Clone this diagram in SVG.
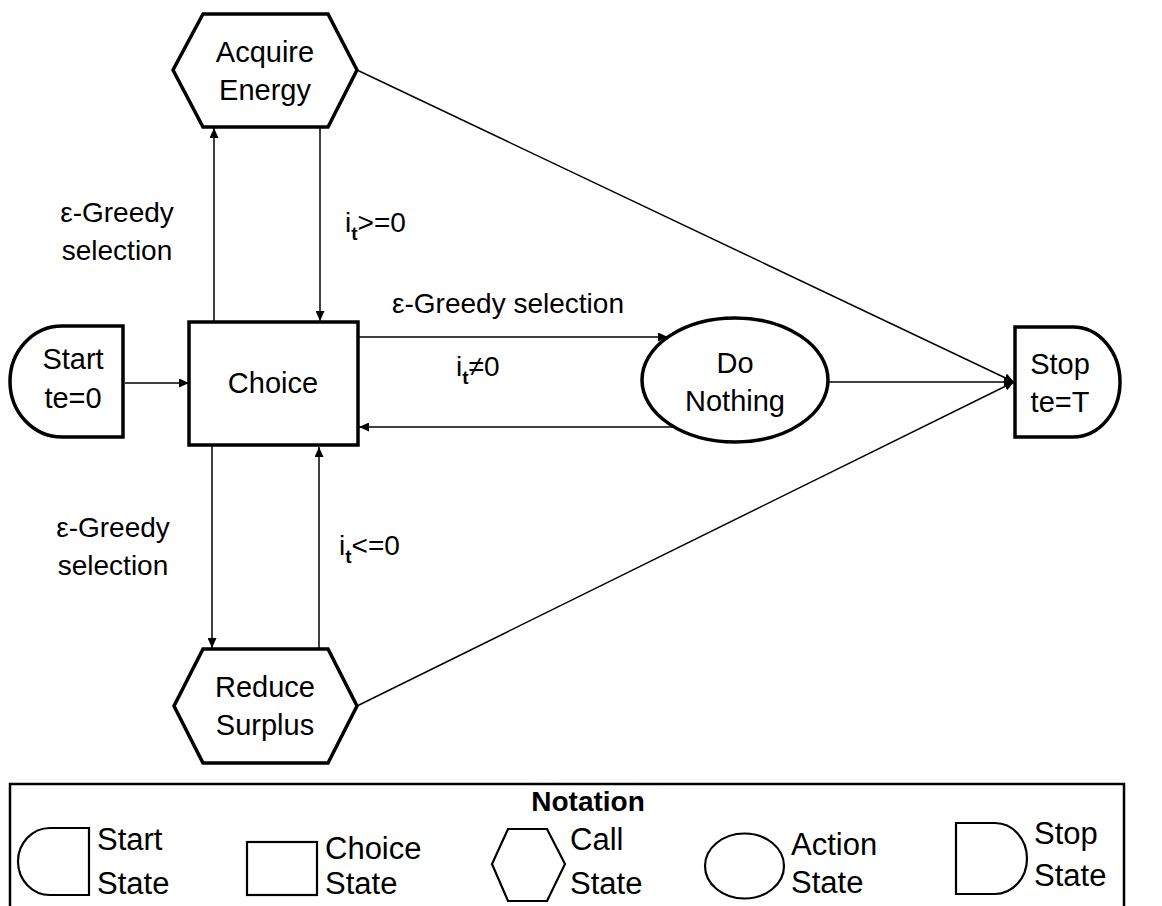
<svg xmlns="http://www.w3.org/2000/svg" width="1162" height="906" viewBox="0 0 1162 906">
<style>
.node{fill:#fff;stroke:#000;stroke-width:3.5;stroke-linejoin:miter}
.leg{fill:#fff;stroke:#000;stroke-width:2.2}
.edge{fill:none;stroke:#000;stroke-width:1.5}
.nt{font-family:"Liberation Sans",Arial,sans-serif;font-size:29px;fill:#000;text-anchor:middle}
.lb{font-family:"Liberation Sans",Arial,sans-serif;font-size:28px;fill:#000}
.lg{font-family:"Liberation Sans",Arial,sans-serif;font-size:31px;fill:#000}
.sub{font-size:19px;font-weight:bold}
</style>
<defs>
<marker id="arr" markerWidth="10" markerHeight="9" refX="10" refY="4.5" orient="auto" markerUnits="userSpaceOnUse">
<path d="M0,0 L10,4.5 L0,9 Z" fill="#000"/>
</marker>
</defs>
<rect width="1162" height="906" fill="#fff"/>
<g id="connectors">
<path class="edge" d="M125,383 L189,383" marker-end="url(#arr)"/>
<path class="edge" d="M214,322 L214,128" marker-end="url(#arr)"/>
<path class="edge" d="M320,128 L320,321" marker-end="url(#arr)"/>
<path class="edge" d="M358,337 L668,337" marker-end="url(#arr)"/>
<path class="edge" d="M674,427 L359,427" marker-end="url(#arr)"/>
<path class="edge" d="M212,446 L212,648" marker-end="url(#arr)"/>
<path class="edge" d="M319,648 L319,447" marker-end="url(#arr)"/>
<path class="edge" d="M357,70 L1014,382" marker-end="url(#arr)"/>
<path class="edge" d="M828,382 L1014,382" marker-end="url(#arr)"/>
<path class="edge" d="M357,706 L1014,382" marker-end="url(#arr)"/>
</g>
<g id="labels">
<text class="lb" x="117" y="222" text-anchor="middle">ε-Greedy</text>
<text class="lb" x="117" y="260" text-anchor="middle">selection</text>
<text class="lb" x="345" y="232">i<tspan class="sub" dy="8">t</tspan><tspan dy="-8">&gt;=0</tspan></text>
<text class="lb" x="508" y="313" text-anchor="middle">ε-Greedy selection</text>
<text class="lb" x="456" y="376">i<tspan class="sub" dy="8">t</tspan><tspan dy="-8">≠0</tspan></text>
<text class="lb" x="113" y="537" text-anchor="middle">ε-Greedy</text>
<text class="lb" x="113" y="575" text-anchor="middle">selection</text>
<text class="lb" x="339" y="555">i<tspan class="sub" dy="8">t</tspan><tspan dy="-8">&lt;=0</tspan></text>
</g>
<g id="start">
<path class="node" d="M123,326 L62,326 A52,55.5 0 0 0 62,437 L123,437 Z"/>
<text class="nt" x="73" y="369">Start</text>
<text class="nt" x="73" y="408">te=0</text>
</g>
<g id="choice">
<rect class="node" x="189" y="322" width="169" height="123"/>
<text class="nt" x="273" y="393">Choice</text>
</g>
<g id="acquire">
<polygon class="node" points="203,14 328,14 357,70 328,127 203,127 173,70"/>
<text class="nt" x="265" y="62">Acquire</text>
<text class="nt" x="265" y="100">Energy</text>
</g>
<g id="reduce">
<polygon class="node" points="203,649 328,649 357,706 328,763 203,763 174,706"/>
<text class="nt" x="265" y="697">Reduce</text>
<text class="nt" x="265" y="735">Surplus</text>
</g>
<g id="donothing">
<ellipse class="node" cx="735" cy="380" rx="93" ry="62"/>
<text class="nt" x="735" y="373">Do</text>
<text class="nt" x="735" y="411">Nothing</text>
</g>
<g id="stop">
<path class="node" d="M1015,327 L1073,327 A47,55 0 0 1 1073,437 L1015,437 Z"/>
<text class="nt" x="1060" y="374">Stop</text>
<text class="nt" x="1060" y="412">te=T</text>
</g>
<g id="notation">
<rect x="10" y="784" width="1114" height="140" fill="none" stroke="#000" stroke-width="2.5"/>
<text x="588" y="811" font-family="'Liberation Sans',Arial,sans-serif" font-size="28" font-weight="bold" text-anchor="middle">Notation</text>
<path class="leg" d="M89,828 L50,828 A32,33.5 0 0 0 50,895 L89,895 Z"/>
<text class="lg" x="97" y="850">Start</text>
<text class="lg" x="97" y="894">State</text>
<rect class="leg" x="247" y="842" width="70" height="53"/>
<text class="lg" x="325" y="859">Choice</text>
<text class="lg" x="325" y="894">State</text>
<polygon class="leg" points="508,829 547,829 565,864 547,901 508,901 492,864"/>
<text class="lg" x="570" y="850">Call</text>
<text class="lg" x="570" y="894">State</text>
<ellipse class="leg" cx="744.5" cy="866" rx="39.5" ry="32.5"/>
<text class="lg" x="791" y="855">Action</text>
<text class="lg" x="791" y="893">State</text>
<path class="leg" d="M956,823 L995,823 A32,35.5 0 0 1 995,894 L956,894 Z"/>
<text class="lg" x="1034" y="844">Stop</text>
<text class="lg" x="1034" y="886">State</text>
</g>
</svg>
